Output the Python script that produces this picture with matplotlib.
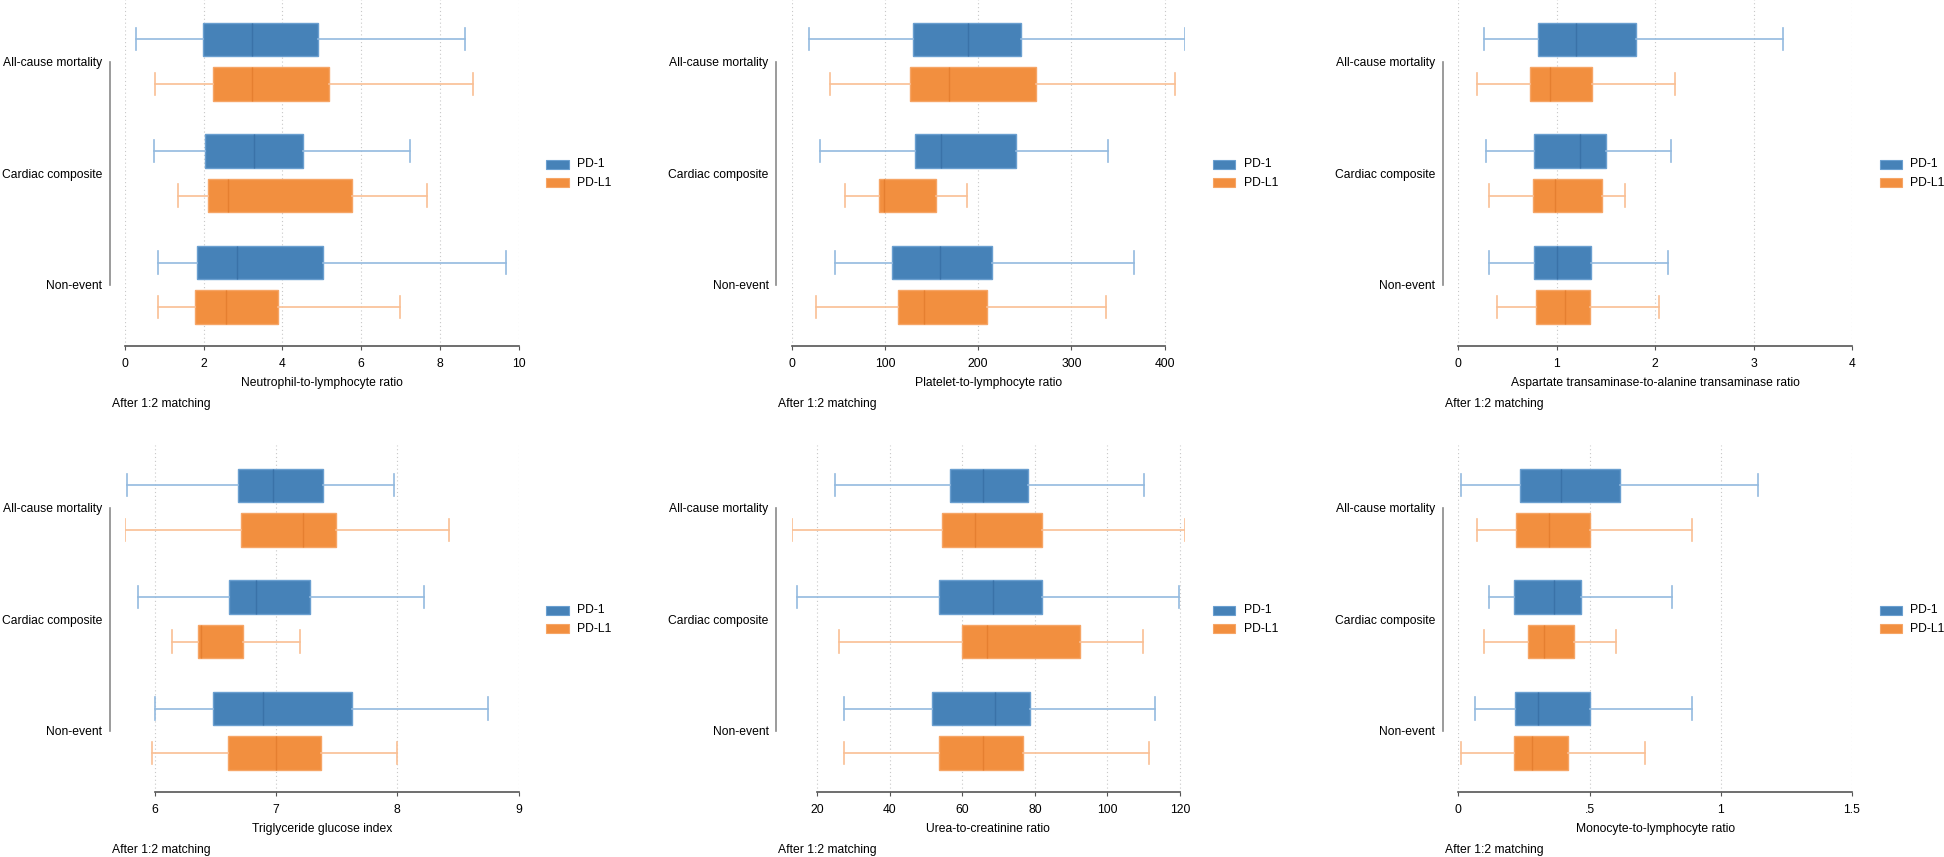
import matplotlib
matplotlib.use("Agg")
import matplotlib.pyplot as plt
from matplotlib.patches import Rectangle

FS = 8.7
plt.rcParams['font.family'] = ['Liberation Sans', 'DejaVu Sans']
plt.rcParams['font.size'] = FS

# ---------------- data ----------------
categories = ["All-cause mortality", "Cardiac composite", "Non-event"]
series = ["PD-1", "PD-L1"]

# each row: [whisker low, q1, median, q3, whisker high] per category
nlr_pd1 = [[0.29, 1.97, 3.22, 4.91, 8.64], [0.74, 2.03, 3.29, 4.51, 7.24], [0.84, 1.84, 2.85, 5.04, 9.68]]
nlr_pdl1 = [[0.77, 2.23, 3.22, 5.19, 8.85], [1.34, 2.11, 2.62, 5.76, 7.68], [0.84, 1.77, 2.56, 3.88, 6.98]]

plr_pd1 = [[18.7, 130, 189.5, 246.4, 422], [30.1, 132.5, 159.8, 240.7, 339.2], [46.4, 107.7, 158.9, 215.3, 367]]
plr_pdl1 = [[41.6, 127.3, 168.4, 262.2, 411.5], [56.9, 93.3, 99, 154.5, 188], [25.8, 114.4, 142.1, 209.6, 336.8]]

aar_pd1 = [[0.26, 0.81, 1.20, 1.81, 3.30], [0.28, 0.77, 1.24, 1.50, 2.16], [0.31, 0.77, 1.00, 1.35, 2.13]]
aar_pdl1 = [[0.19, 0.73, 0.93, 1.36, 2.20], [0.31, 0.76, 0.98, 1.46, 1.69], [0.39, 0.79, 1.08, 1.34, 2.04]]

tyg_pd1 = [[5.77, 6.684, 6.978, 7.385, 7.975], [5.861, 6.613, 6.834, 7.279, 8.216], [6.006, 6.477, 6.896, 7.63, 8.744]]
tyg_pdl1 = [[5.755, 6.71, 7.226, 7.494, 8.423], [6.141, 6.357, 6.383, 6.725, 7.2], [5.98, 6.604, 6.999, 7.368, 7.998]]

ucr_pd1 = [[25.0, 56.6, 65.6, 78.0, 110.0], [14.6, 53.5, 68.6, 82.0, 119.6], [27.5, 51.7, 69.0, 78.7, 113.1]]
ucr_pdl1 = [[13.0, 54.4, 63.4, 82.0, 121.4], [26.1, 60.0, 66.7, 92.5, 109.8], [27.5, 53.5, 65.6, 76.8, 111.5]]

mlr_pd1 = [[0.011, 0.237, 0.390, 0.616, 1.143], [0.117, 0.212, 0.366, 0.466, 0.814], [0.065, 0.217, 0.305, 0.500, 0.889]]
mlr_pdl1 = [[0.070, 0.221, 0.347, 0.500, 0.889], [0.098, 0.265, 0.326, 0.440, 0.600], [0.012, 0.211, 0.282, 0.419, 0.713]]

titles = ["Neutrophil-to-lymphocyte ratio", "Platelet-to-lymphocyte ratio",
          "Aspartate transaminase-to-alanine transaminase ratio",
          "Triglyceride glucose index", "Urea-to-creatinine ratio", "Monocyte-to-lymphocyte ratio"]
xticks = [[0, 2, 4, 6, 8, 10], [0, 100, 200, 300, 400], [0, 1, 2, 3, 4],
          [6, 7, 8, 9], [20, 40, 60, 80, 100, 120], [0, 0.5, 1, 1.5]]
xticklabels = [["0", "2", "4", "6", "8", "10"], ["0", "100", "200", "300", "400"],
               ["0", "1", "2", "3", "4"], ["6", "7", "8", "9"],
               ["20", "40", "60", "80", "100", "120"], ["0", ".5", "1", "1.5"]]
panels = [(nlr_pd1, nlr_pdl1), (plr_pd1, plr_pdl1), (aar_pd1, aar_pdl1),
          (tyg_pd1, tyg_pdl1), (ucr_pd1, ucr_pdl1), (mlr_pd1, mlr_pdl1)]
note = "After 1:2 matching"

# ---------------- style ----------------
W, H = 1944, 857
fill = {"PD-1": "#4682b8", "PD-L1": "#f28f3f"}
edge = {"PD-1": "#6a9fd0", "PD-L1": "#f6a566"}
medc = {"PD-1": "#3a72a8", "PD-L1": "#e57f30"}
whc = {"PD-1": "#93badf", "PD-L1": "#f9bf94"}

fig = plt.figure(figsize=(W / 100, H / 100), dpi=100)

col_left = [125, 791.6, 1458.3]
pw = 393.6
row_top = [-1, 445]
ph = 346.7


def px_rect(x, y, w, h):
    return [x / W, 1 - (y + h) / H, w / W, h / H]


for i, (pd1, pdl1) in enumerate(panels):
    r, c = divmod(i, 3)
    x0, y0 = col_left[c], row_top[r]
    ax = fig.add_axes(px_rect(x0, y0, pw, ph))
    ax.set_facecolor("none")

    # spines first (set_position resets the ticks)
    for sp in ("top", "right"):
        ax.spines[sp].set_visible(False)
    ax.spines["left"].set_position(("outward", 11.0))
    ax.spines["left"].set_color("#8a8a8a")
    ax.spines["left"].set_linewidth(1.2)
    ax.spines["bottom"].set_color("#555555")
    ax.spines["bottom"].set_linewidth(1.2)

    for s_idx, (name, data) in enumerate(zip(series, (pd1, pdl1))):
        stats = [dict(whislo=d[0], q1=d[1], med=d[2], q3=d[3], whishi=d[4], fliers=[])
                 for d in data]
        pos = [g + (-0.2 if s_idx == 0 else 0.2) for g in range(len(categories))]
        ax.bxp(stats, positions=pos, widths=0.30, orientation="horizontal",
               patch_artist=True, showfliers=False, capwidths=0.2,
               boxprops=dict(facecolor=fill[name], edgecolor=edge[name], linewidth=1.0),
               medianprops=dict(color=medc[name], linewidth=1.0),
               whiskerprops=dict(color=whc[name], linewidth=1.2),
               capprops=dict(color=whc[name], linewidth=1.2),
               manage_ticks=False, zorder=3)

    lows = [d[0] for d in pd1 + pdl1]
    highs = [d[4] for d in pd1 + pdl1]
    xt = xticks[i]
    ax.set_xlim(min(xt[0], min(lows)), max(xt[-1], max(highs)))
    ax.set_ylim(2.545, -0.561)

    ax.set_xticks(xt)
    ax.set_xticklabels(xticklabels[i])
    ax.set_yticks(range(len(categories)))
    ax.set_yticklabels(categories)
    ax.tick_params(axis="y", length=0, pad=5.5, labelsize=FS)
    ax.tick_params(axis="x", length=3, width=0.8, color="#555555", pad=5.8,
                   labelcolor="black", labelsize=FS)
    ax.grid(axis="x", linestyle=(0, (1, 2.5)), color="#c8c8c8", linewidth=0.8, zorder=0)
    ax.set_axisbelow(True)

    ax.spines["bottom"].set_bounds(xt[0], xt[-1])
    ax.spines["left"].set_bounds(0, 2)

    ax.set_xlabel(titles[i], fontsize=FS, labelpad=5.2)

    # legend
    lx = x0 + pw + 27.6
    for k, name in enumerate(series):
        cy = y0 + 165.2 + k * 18.6
        fig.patches.append(Rectangle((lx / W, 1 - (cy + 4.4) / H), 22.3 / W, 8.8 / H,
                                     transform=fig.transFigure, facecolor=fill[name],
                                     edgecolor=edge[name], linewidth=0.8))
        fig.text((lx + 30.7) / W, 1 - cy / H, name, fontsize=FS, va="center", ha="left")

    # note
    fig.text((x0 - 13.3) / W, 1 - (y0 + 405) / H, note, fontsize=FS, va="center", ha="left")

fig.savefig("out.png", dpi=100)
